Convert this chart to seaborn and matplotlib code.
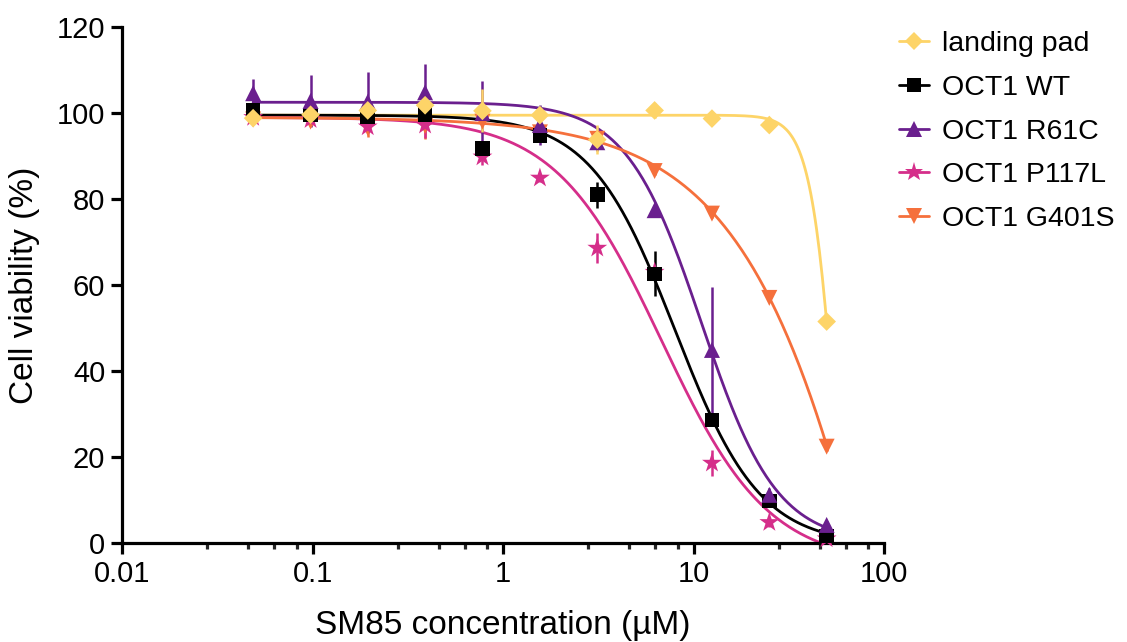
import numpy as np
import pandas as pd
import matplotlib
matplotlib.use("Agg")
import matplotlib.pyplot as plt
import seaborn as sns
from matplotlib.lines import Line2D
from matplotlib.ticker import FixedLocator, FixedFormatter, NullFormatter

sns.set_theme(style="ticks")
plt.rcParams['font.family'] = ['Liberation Sans', 'DejaVu Sans']
plt.rcParams['text.color'] = 'black'
plt.rcParams['axes.labelcolor'] = 'black'

# ---------------- data ----------------
conc = [0.0488, 0.0977, 0.195, 0.39, 0.78, 1.5625, 3.125, 6.25, 12.5, 25, 50]

series_names = ["landing pad", "OCT1 WT", "OCT1 R61C", "OCT1 P117L", "OCT1 G401S"]

landing_pad = [98.8, 99.6, 100.6, 101.8, 100.5, 99.5, 93.8, 100.6, 98.7, 97.2, 51.5]
landing_pad_err = [0.8, 2.5, 1.0, 1.0, 5.0, 1.0, 3.3, 1.8, 1.5, 0.5, 1.0]

wt = [100.7, 99.5, 99.2, 99.6, 91.8, 94.8, 81.0, 62.6, 28.6, 9.8, 1.6]
wt_err = [1.0, 1.0, 1.5, 1.0, 1.5, 1.5, 3.0, 5.2, 1.0, 1.0, 1.0]

r61c = [104.6, 102.8, 102.6, 104.8, 100.0, 97.2, 93.2, 77.4, 44.9, 11.2, 4.2]
r61c_err = [3.3, 6.0, 7.0, 6.5, 7.5, 4.7, 2.0, 1.0, 14.6, 1.5, 1.0]

p117l = [99.0, 98.5, 96.8, 97.2, 89.8, 84.9, 68.6, 63.0, 18.6, 4.8, 1.0]
p117l_err = [1.0, 1.0, 1.5, 3.0, 2.0, 1.0, 3.5, 1.0, 3.0, 1.0, 0.5]

g401s = [98.5, 98.0, 96.5, 97.0, 98.0, 95.5, 94.0, 86.5, 76.6, 57.0, 22.4]
g401s_err = [1.0, 1.0, 2.0, 3.0, 1.0, 1.0, 1.5, 1.0, 1.0, 1.0, 1.0]

# 4-parameter logistic fit parameters [top, bottom, IC50, hill]
fit_params = {
    "landing pad": [99.5, -100.0, 60.5, 6.0],
    "OCT1 WT": [99.5, -0.5, 8.0, 1.95],
    "OCT1 R61C": [102.5, 0.0, 11.0, 2.2],
    "OCT1 P117L": [99.0, -5.0, 6.81, 1.55],
    "OCT1 G401S": [99.0, -300.0, 208.5, 1.01],
}

colors = {
    "landing pad": "#FDD468",
    "OCT1 WT": "#000000",
    "OCT1 R61C": "#6A1F8E",
    "OCT1 P117L": "#D52E8A",
    "OCT1 G401S": "#F5703C",
}
markers = {
    "landing pad": "D",
    "OCT1 WT": "s",
    "OCT1 R61C": "^",
    "OCT1 P117L": "*",
    "OCT1 G401S": "v",
}
msizes = {"landing pad": 9.5, "OCT1 WT": 10.5, "OCT1 R61C": 11.5, "OCT1 P117L": 15, "OCT1 G401S": 11.5}

values = {"landing pad": landing_pad, "OCT1 WT": wt, "OCT1 R61C": r61c,
          "OCT1 P117L": p117l, "OCT1 G401S": g401s}
errors = {"landing pad": landing_pad_err, "OCT1 WT": wt_err, "OCT1 R61C": r61c_err,
          "OCT1 P117L": p117l_err, "OCT1 G401S": g401s_err}

# ---------------- figure ----------------
fig = plt.figure(figsize=(11.27, 6.42), dpi=100)
ax = fig.add_axes([122 / 1127, 1 - 543 / 642, (884 - 122) / 1127, (543 - 27) / 642])

xs = np.logspace(np.log10(conc[0]), np.log10(conc[-1]), 400)
for name in series_names:
    top, bot, ic50, h = fit_params[name]
    ys = bot + (top - bot) / (1 + (xs / ic50) ** h)
    dfc = pd.DataFrame({"x": xs, "y": ys})
    sns.lineplot(data=dfc, x="x", y="y", ax=ax, color=colors[name], lw=2.0,
                 zorder=2, estimator=None, sort=False)

order_draw = ["OCT1 G401S", "OCT1 P117L", "OCT1 WT", "OCT1 R61C", "landing pad"]
for name in order_draw:
    ax.errorbar(conc, values[name], yerr=errors[name], fmt="none",
                ecolor=colors[name], elinewidth=1.8, capsize=0, zorder=3, clip_on=False)
    dfp = pd.DataFrame({"x": conc, "y": values[name]})
    sns.scatterplot(data=dfp, x="x", y="y", ax=ax, color=colors[name],
                    marker=markers[name], s=msizes[name] ** 2, edgecolor="none",
                    linewidth=0, zorder=4, clip_on=False)

ax.set_xscale("log")
ax.set_xlim(0.01, 100)
ax.set_ylim(0, 120)

ax.xaxis.set_major_locator(FixedLocator([0.01, 0.1, 1, 10, 100]))
ax.xaxis.set_major_formatter(FixedFormatter(["0.01", "0.1", "1", "10", "100"]))
minor = []
for d in [0.01, 0.1, 1, 10]:
    for m in [2.8, 4.6, 6.3, 8.25]:
        minor.append(d * m)
ax.xaxis.set_minor_locator(FixedLocator(minor))
ax.xaxis.set_minor_formatter(NullFormatter())
ax.set_yticks([0, 20, 40, 60, 80, 100, 120])

for sp in ["top", "right"]:
    ax.spines[sp].set_visible(False)
for sp in ["left", "bottom"]:
    ax.spines[sp].set_linewidth(2.3)
    ax.spines[sp].set_color("black")

ax.tick_params(axis="both", which="major", direction="out", length=8, width=2.3,
               labelsize=21, colors="black", pad=4)
ax.tick_params(axis="x", which="minor", direction="out", length=4.5, width=2.3)

ax.set_xlabel("SM85 concentration (µM)", fontsize=24, labelpad=16)
ax.set_ylabel("Cell viability (%)", fontsize=24, labelpad=12)
ax.grid(False)

handles = []
for name in series_names:
    handles.append(Line2D([0], [0], color=colors[name], lw=2.0, marker=markers[name],
                          markersize=msizes[name] * 0.95, markeredgewidth=0))
fig.legend(handles, series_names, loc="upper left", bbox_to_anchor=(888 / 1127, 1 - 20 / 642),
           frameon=False, fontsize=20.5, handlelength=1.05, handletextpad=0.45,
           labelspacing=0.62, borderaxespad=0)

fig.savefig("out.png", dpi=100)
